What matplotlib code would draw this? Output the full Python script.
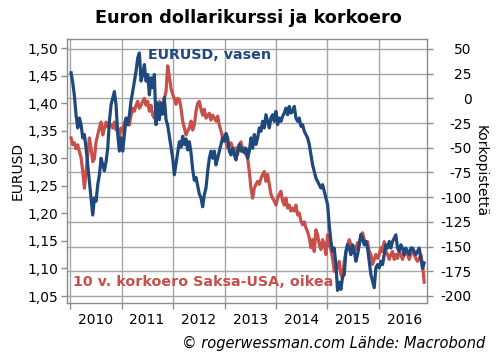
import pandas as pd
import matplotlib
matplotlib.use("Agg")
import matplotlib.pyplot as plt
import matplotlib.dates as mdates
from matplotlib.ticker import FixedLocator, FuncFormatter, NullFormatter

# EURUSD (vasen akseli), luettu kuvasta noin 12 päivän välein
eurusd = [
    1.455, 1.437, 1.413, 1.378, 1.355, 1.373, 1.361, 1.337, 1.343, 1.318,
    1.288, 1.258, 1.228, 1.197, 1.228, 1.222, 1.252, 1.270, 1.300, 1.288,
    1.277, 1.294, 1.318, 1.367, 1.397, 1.409, 1.421, 1.397, 1.343, 1.313,
    1.337, 1.313, 1.343, 1.373, 1.361, 1.378, 1.404, 1.421, 1.440, 1.458,
    1.482, 1.491, 1.440, 1.452, 1.470, 1.440, 1.452, 1.415, 1.446, 1.428,
    1.452, 1.361,
    1.40, 1.37, 1.40, 1.38, 1.41, 1.37, 1.36, 1.34, 1.32, 1.30,
    1.27, 1.29, 1.31, 1.33, 1.32, 1.34, 1.325, 1.335, 1.315, 1.33,
    1.31, 1.28, 1.26, 1.265, 1.25, 1.235, 1.228, 1.212, 1.234, 1.246,
    1.276, 1.30, 1.313, 1.30, 1.313, 1.288, 1.30, 1.313, 1.325, 1.337,
    1.331, 1.345, 1.337, 1.313, 1.306, 1.318, 1.306, 1.297, 1.313, 1.325,
    1.313, 1.318, 1.31, 1.318,
    1.300, 1.313, 1.337, 1.318, 1.343, 1.325, 1.337, 1.355, 1.349, 1.367,
    1.355, 1.379, 1.367, 1.355, 1.373, 1.379, 1.367, 1.385, 1.361, 1.373,
    1.367, 1.376, 1.382, 1.391, 1.379, 1.394, 1.382, 1.385, 1.394, 1.373,
    1.367, 1.373, 1.358, 1.361, 1.349, 1.343, 1.337, 1.325, 1.306, 1.288,
    1.276, 1.264, 1.258, 1.252, 1.246, 1.252, 1.240, 1.228, 1.216, 1.179,
    1.149, 1.131, 1.137, 1.107,
    1.060, 1.075, 1.062, 1.085, 1.089, 1.131, 1.143, 1.137, 1.125, 1.143,
    1.131, 1.113, 1.125, 1.143, 1.161, 1.155, 1.143, 1.149, 1.137, 1.113,
    1.089, 1.077, 1.065, 1.101, 1.107, 1.101, 1.113, 1.107, 1.125, 1.143,
    1.137, 1.149, 1.137, 1.149, 1.155, 1.161, 1.137, 1.131, 1.143, 1.137,
    1.125, 1.137, 1.131, 1.125, 1.137, 1.137, 1.131, 1.125, 1.131, 1.137,
    1.119, 1.100, 1.110,
]

# 10 v. korkoero Saksa-USA, korkopisteet (oikea akseli)
korkoero = [
    -40, -47, -45, -51, -47, -54, -60, -74, -91, -74,
    -57, -40, -51, -64, -61, -44, -37, -30, -24, -37,
    -30, -24, -29, -25, -27, -30, -24, -32, -30, -40,
    -30, -33, -24, -27, -22, -27, -17, -10, -13, -7,
    -3, -10, -7, -3, 0, -7, -3, -13, -7, -17,
    -20, -10,
    -10, -3, -16, -6, 0, 7, 33, 22, 10, 4,
    0, -6, 0, -1, -10, -23, -30, -37, -33, -30,
    -23, -32, -27, -13, -5, -3, -11, -17, -11, -20,
    -18, -15, -22, -17, -20, -23, -18, -27, -33, -40,
    -37, -44, -50, -47, -45, -50, -54, -50, -57, -47,
    -44, -54, -50, -57,
    -60, -74, -91, -101, -91, -87, -84, -87, -81, -77,
    -74, -84, -77, -87, -97, -101, -104, -108, -101, -97,
    -94, -104, -108, -101, -111, -108, -114, -111, -114, -108,
    -118, -116, -124, -128, -125, -131, -135, -141, -151, -143,
    -155, -133, -138, -148, -153, -143, -148, -158, -138, -148,
    -153, -162, -175, -168,
    -172, -165, -178, -182, -165, -156, -148, -143, -148, -155,
    -150, -153, -146, -148, -138, -136, -143, -148, -145, -155,
    -158, -168, -163, -158, -162, -158, -151, -155, -145, -155,
    -158, -163, -158, -155, -163, -158, -162, -155, -158, -163,
    -158, -155, -158, -163, -158, -155, -158, -162, -165, -162,
    -158, -168, -186,
]

dates = pd.date_range("2010-01-08", "2016-11-17", periods=len(eurusd))

left_ticks = [1.05, 1.10, 1.15, 1.20, 1.25, 1.30, 1.35, 1.40, 1.45, 1.50]
right_ticks = [-200, -175, -150, -125, -100, -75, -50, -25, 0, 25, 50]

BLUE = "#1f497d"
RED = "#c8504b"
GRAY = "#8c8c8c"

fig = plt.figure(figsize=(4.96, 3.61), dpi=100)
ax = fig.add_axes([67 / 496, 58 / 361, 360 / 496, 264 / 361])
ax2 = ax.twinx()

# punainen alle, sininen päälle
ax2.plot(dates, korkoero, color=RED, lw=2.3, solid_joinstyle="round")
ax.plot(dates, eurusd, color=BLUE, lw=2.3, solid_joinstyle="round")
ax.set_zorder(ax2.get_zorder() + 1)
ax.patch.set_visible(False)

ax.set_xlim(pd.Timestamp("2009-12-10"), pd.Timestamp("2016-12-07"))
ax.set_ylim(1.0373, 1.5164)
ax2.set_ylim(-207.1, 60.1)

# x-akseli: viivat vuoden alussa, vuosiluvut keskellä
ax.xaxis.set_major_locator(mdates.YearLocator())
ax.xaxis.set_major_formatter(NullFormatter())
ax.xaxis.set_minor_locator(mdates.MonthLocator(bymonth=7))
ax.xaxis.set_minor_formatter(mdates.DateFormatter("%Y"))
ax.tick_params(axis="x", which="major", length=4, color=GRAY, width=1)
ax.tick_params(axis="x", which="minor", length=0, pad=7, labelsize=10)

ax.yaxis.set_major_locator(FixedLocator(left_ticks))
ax.yaxis.set_major_formatter(FuncFormatter(lambda v, p: f"{v:.2f}".replace(".", ",")))
ax.tick_params(axis="y", length=4, color=GRAY, width=1, labelsize=10, pad=2)

ax2.yaxis.set_major_locator(FixedLocator(right_ticks))
ax2.yaxis.set_major_formatter(FuncFormatter(lambda v, p: f"{v:.0f}"))
ax2.tick_params(axis="y", length=4, color=GRAY, width=1, labelsize=10, pad=28)
plt.setp(ax2.get_yticklabels(), ha="right")

# ruudukko oikean akselin mukaan
ax2.xaxis.set_visible(True)
ax2.tick_params(axis="x", which="both", bottom=False, top=False,
                labelbottom=False, labeltop=False)
ax2.grid(True, which="major", color="#a6a6a6", lw=1)
ax.grid(False)

for s in ax2.spines.values():
    s.set_visible(False)
for s in ax.spines.values():
    s.set_color(GRAY)
    s.set_linewidth(1)

ax.set_ylabel("EURUSD", fontsize=10, labelpad=2)
ax2.set_ylabel("Korkopistettä", fontsize=10, rotation=270, labelpad=12)

fig.text(0.5, 1 - 18 / 361, "Euron dollarikurssi ja korkoero",
         ha="center", va="center", fontsize=12.7, fontweight="bold")
fig.text(148 / 496, 1 - 55 / 361, "EURUSD, vasen", color=BLUE,
         ha="left", va="center", fontsize=10.3, fontweight="bold")
fig.text(73 / 496, 1 - 282 / 361, "10 v. korkoero Saksa-USA, oikea", color=RED,
         ha="left", va="center", fontsize=10.3, fontweight="bold")
fig.text(485 / 496, 1 - 343 / 361, "© rogerwessman.com Lähde: Macrobond",
         ha="right", va="center", fontsize=10.5, style="italic")

fig.savefig("out.png", dpi=100)
